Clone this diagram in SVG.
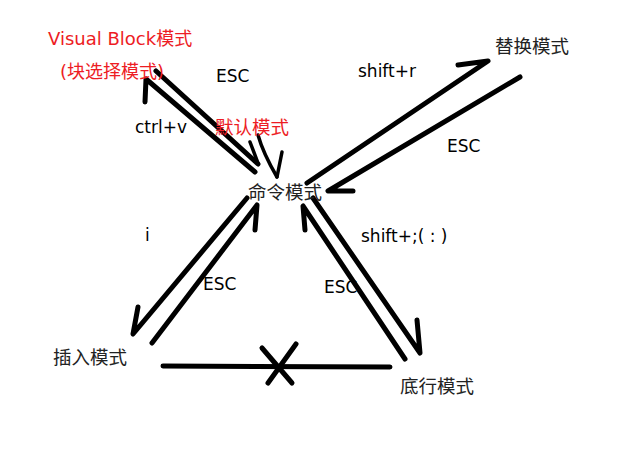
<svg xmlns="http://www.w3.org/2000/svg" width="626" height="462" viewBox="0 0 626 462">
<style>
.bg{fill:#fff}
.ln{fill:none;stroke:#000;stroke-width:5;stroke-linecap:round;stroke-linejoin:round}
.thin{stroke-width:3.5}
.cjk{font-family:"Noto Sans CJK SC","DejaVu Sans",sans-serif;font-size:18.5px;fill:#222}
.lat{font-family:"DejaVu Sans","Noto Sans CJK SC",sans-serif;font-size:17px;fill:#000}
.red{font-family:"DejaVu Sans","Noto Sans CJK SC",sans-serif;font-size:18px;fill:#ed1c24}
</style>
<rect class="bg" x="0" y="0" width="626" height="462"/>
<g id="connectors">
<path class="ln" d="M255,172 L146,79 L145,102"/>
<path class="ln" d="M156,71 L258,164"/>
<path class="ln thin" d="M250,142 L258,163"/>
<path class="ln thin" d="M258,135 Q263,153 277,177"/>
<path class="ln thin" d="M282,152 L277,177"/>
<path class="ln" d="M307,183 L488,61 L458,65"/>
<path class="ln" d="M520,77 L328,191 L353,191"/>
<path class="ln" d="M247,198 L133,334 L138,307"/>
<path class="ln" d="M152,343 L257,205 L255,230"/>
<path class="ln" d="M313,198 L420,353 L417,320"/>
<path class="ln" d="M405,359 L303,206 L305,230"/>
<path class="ln" d="M163,366 L390,367"/>
<path class="ln" d="M262,348 L292,383 M296,344 L268,383"/>
</g>
<g id="visual">
<text class="red" x="48" y="45">Visual Block模式</text>
<text class="red" x="60" y="78">(块选择模式)</text>
</g>
<g id="default-label">
<text class="red" x="215" y="134" style="font-size:18.5px">默认模式</text>
</g>
<g id="command">
<text class="cjk" x="248" y="199">命令模式</text>
</g>
<g id="replace">
<text class="cjk" x="495" y="53">替换模式</text>
</g>
<g id="insert">
<text class="cjk" x="53" y="364">插入模式</text>
</g>
<g id="lastline">
<text class="cjk" x="400" y="393">底行模式</text>
</g>
<g id="labels">
<text class="lat" x="216" y="82">ESC</text>
<text class="lat" x="135" y="133">ctrl+v</text>
<text class="lat" x="358" y="77">shift+r</text>
<text class="lat" x="447" y="152">ESC</text>
<text class="lat" x="145" y="241">i</text>
<text class="lat" x="203" y="290">ESC</text>
<text class="lat" x="361" y="242">shift+;( : )</text>
<text class="lat" x="324" y="293">ESC</text>
</g>
</svg>
